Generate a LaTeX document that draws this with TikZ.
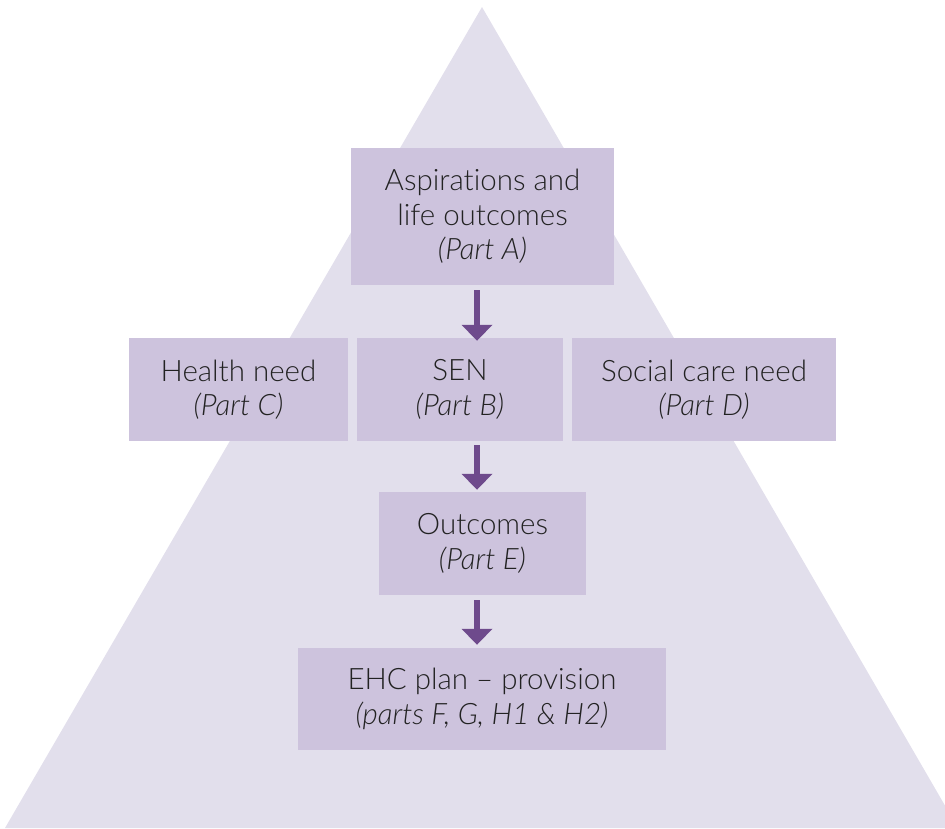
\documentclass[tikz,border=0pt]{standalone}
\usepackage{fontspec}
\setmainfont{Lato}[UprightFont=* Light, ItalicFont=* Light Italic, Ligatures=NoCommon]
\usetikzlibrary{positioning}
\usetikzlibrary{arrows.meta}

\definecolor{pyramid}{HTML}{E2DFEC}
\definecolor{boxfill}{HTML}{CDC3DD}
\definecolor{arrowpurple}{HTML}{6E4A8C}
\definecolor{textgrey}{HTML}{222222}

\begin{document}
\begin{tikzpicture}[x=1pt, y=-1pt,
    part/.style={align=center, rectangle, fill=boxfill, inner sep=0pt, text=textgrey, font=\fontsize{29.5}{34.5}\selectfont},
    flow/.style={-{Triangle[width=30pt,length=16pt]}, line width=6pt, arrowpurple}]
            \useasboundingbox (0,0) rectangle (945,828);
            % background pyramid
            \fill[pyramid] (482,7) -- (958,828) -- (5,828) -- cycle;

            \node (A) at (482.5,216.5) [part, minimum width=263pt, minimum height=137pt]{Aspirations and\\life outcomes\\\textit{(Part A)}};
            \node (C) at (238.5,389.5) [part, minimum width=219pt, minimum height=103pt]{Health need\\\textit{(Part C)}};
            \node (B) at (460,389.5) [part, minimum width=206pt, minimum height=103pt]{SEN\\\textit{(Part B)}};
            \node (D) at (704,389.5) [part, minimum width=264pt, minimum height=103pt]{Social care need\\\textit{(Part D)}};
            \node (E) at (482.5,543.5) [part, minimum width=207pt, minimum height=103pt]{Outcomes\\\textit{(Part E)}};
            \node (F) at (482,699) [part, minimum width=368pt, minimum height=102pt]{EHC plan -- provision\\\textit{(parts F, G, H1 \& H2)}};

            \draw[flow] ([xshift=-5.5pt,yshift=-5pt]A.south) -- ([xshift=-5.5pt,yshift=-3pt]A.south |- B.north);
            \draw[flow] ([xshift=17pt,yshift=-4pt]B.south) -- ([xshift=17pt,yshift=2pt]B.south |- E.north);
            \draw[flow] ([xshift=-5.5pt,yshift=-5pt]E.south) -- ([xshift=-5.5pt,yshift=3pt]E.south |- F.north);
        \end{tikzpicture}
\end{document}
